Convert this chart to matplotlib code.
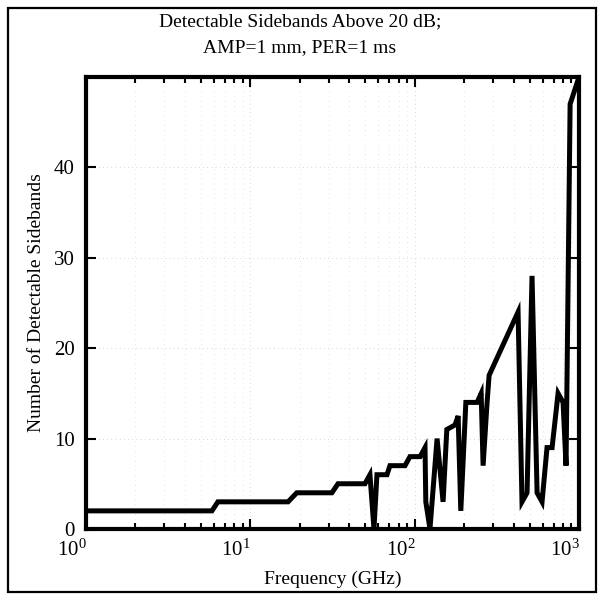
import matplotlib
matplotlib.use("Agg")
import matplotlib.pyplot as plt
import matplotlib.transforms as mtransforms
from matplotlib.patches import Rectangle
from matplotlib.ticker import FixedLocator, NullFormatter

plt.rcParams["font.family"] = ["Liberation Serif", "DejaVu Serif"]
plt.rcParams["mathtext.default"] = "regular"

# datos
freq_ghz = [1, 5.85, 6.36, 17.0, 19.2, 31.4, 34.2, 49.9, 53.5, 56.6,
            59.0, 67.9, 70.8, 87.4, 93.7, 108, 115.7, 117, 124, 137,
            149, 157, 176, 184, 191, 205, 240, 254, 261, 276,
            284, 426, 450, 483, 518, 556, 596, 639, 686, 746,
            800, 834, 883, 1000]
sidebands = [2, 2, 3, 3, 4, 4, 5, 5, 6, 0,
             6, 6, 7, 7, 8, 8, 9, 3, 0, 10,
             3, 11, 11.5, 12.5, 2, 14, 14, 15, 7, 14,
             17, 24, 3, 4, 28, 4, 3, 9, 9, 15,
             14, 7, 47, 50]

x_ticks = [1, 10, 100, 1000]
x_tick_labels = ["$10^{0}$", "$10^{1}$", "$10^{2}$", "$10^{3}$"]
y_ticks = [0, 10, 20, 30, 40]

fig = plt.figure(figsize=(6.0, 5.97), dpi=100)
ax = fig.add_axes([0.143, 0.114, 0.822, 0.757])

ax.plot(freq_ghz, sidebands, color="black", linewidth=3.6,
        solid_joinstyle="miter", clip_on=True)

ax.set_xscale("log")
ax.set_xlim(1, 1000)
ax.set_ylim(0, 50)

ax.set_xticks(x_ticks)
ax.set_xticklabels(x_tick_labels, fontsize=15)
minors = [m * d for d in (1, 10, 100) for m in range(2, 10)]
ax.xaxis.set_minor_locator(FixedLocator(minors))
ax.xaxis.set_minor_formatter(NullFormatter())
ax.set_yticks(y_ticks)
ax.set_yticklabels([str(v) for v in y_ticks], fontsize=15)

ax.tick_params(which="both", direction="in", top=True, right=True,
               width=1.5, color="black")
ax.tick_params(which="major", length=7)
ax.tick_params(which="minor", length=4)
ax.tick_params(axis="x", pad=8)
ax.tick_params(axis="y", pad=8)

# etiquetas del eje x un poco corridas a la izquierda, como en el original
shift = mtransforms.ScaledTranslation(-14 / 100, 0, fig.dpi_scale_trans)
for lbl in ax.get_xticklabels():
    lbl.set_transform(lbl.get_transform() + shift)

ax.grid(True, which="major", color="0.7", linestyle=(0, (1, 5)), linewidth=0.5)
ax.grid(True, which="minor", axis="x", color="0.8", linestyle=(0, (1, 6)), linewidth=0.5)

for sp in ax.spines.values():
    sp.set_linewidth(3.0)

ax.set_xlabel("Frequency (GHz)", fontsize=14, labelpad=7)
ax.set_ylabel("Number of Detectable Sidebands", fontsize=14, labelpad=6)

fig.text(0.5, 0.963, "Detectable Sidebands Above 20 dB;", ha="center", va="center", fontsize=14)
fig.text(0.5, 0.920, "AMP=1 mm, PER=1 ms", ha="center", va="center", fontsize=14)

# marco exterior
fig.patches.append(Rectangle((0.014, 0.009), 0.98, 0.978, transform=fig.transFigure,
                             fill=False, edgecolor="black", linewidth=1.6))

fig.savefig("out.png", dpi=100)
